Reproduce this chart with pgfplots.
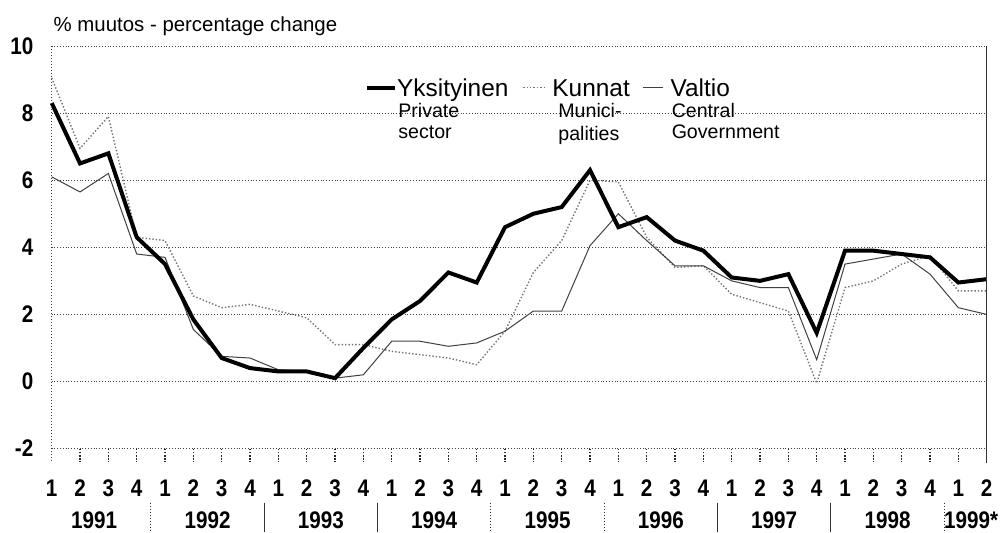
\documentclass[border=0pt]{standalone}
\usepackage{fontspec}
\setmainfont{Liberation Sans}
\newfontfamily\numfont{Liberation Sans}[FakeStretch=0.86]
\usepackage{pgfplots}
\usepackage{pgfplotstable}
\pgfplotsset{compat=1.18}
\pgfplotstableread{
q pri kun val
0 8.30 9.05 6.10
1 6.50 6.95 5.65
2 6.80 7.90 6.20
3 4.30 4.30 3.80
4 3.50 4.20 3.70
5 1.85 2.55 1.55
6 0.70 2.20 0.75
7 0.40 2.30 0.70
8 0.30 2.10 0.35
9 0.30 1.90 0.30
10 0.10 1.10 0.10
11 1.00 1.10 0.20
12 1.85 0.90 1.20
13 2.40 0.80 1.20
14 3.25 0.70 1.05
15 2.95 0.50 1.15
16 4.60 1.50 1.50
17 5.00 3.25 2.10
18 5.20 4.20 2.10
19 6.30 6.00 4.05
20 4.60 5.95 5.00
21 4.90 4.30 4.20
22 4.20 3.40 3.45
23 3.90 3.45 3.45
24 3.10 2.60 3.00
25 3.00 2.35 2.80
26 3.20 2.10 2.80
27 1.45 -0.05 0.65
28 3.90 2.80 3.50
29 3.90 3.00 3.65
30 3.80 3.50 3.80
31 3.70 3.75 3.20
32 2.95 2.70 2.20
33 3.05 2.70 2.00
}\data
\newcommand\numlab{\numfont\bfseries\fontsize{12}{14}\selectfont}
\newcommand\sublab{\fontsize{9.8}{11}\selectfont}
\newcommand\mainlab{\fontsize{12.2}{14}\selectfont}
\begin{document}
\begin{tikzpicture}
\begin{axis}[
  scale only axis, width=467.5pt, height=201.3pt,
  xmin=0, xmax=33, ymin=-2, ymax=10,
  axis line style={draw=none},
  clip=false,
  ytick={-2,0,2,4,6,8,10},
  yticklabels={-2,0,2,4,6,8,10},
  ymajorgrids,
  grid style={densely dotted, black!75, line width=0.5pt},
  y tick style={draw=none},
  major tick length=0pt,
  yticklabel style={font=\numlab, anchor=east, inner sep=0pt, xshift=-9pt},
  xtick=\empty,
]
\addplot[densely dotted, black!55, line width=0.7pt] table[x=q, y=kun] {\data};
\addplot[black!75, line width=0.5pt] table[x=q, y=val] {\data};
\addplot[black, line width=2pt, line join=miter] table[x=q, y=pri] {\data};
% borders
\draw[densely dotted, black!75, line width=0.5pt] (axis cs:0,10) -- ([yshift=-6.5pt]axis cs:0,-2);
\draw[black!80, line width=0.5pt] (axis cs:33,10) -- ([yshift=-7pt]axis cs:33,-2);
% ticks and quarter labels
\pgfplotsinvokeforeach{1,...,32}{
  \draw[black!85, line width=0.6pt, dash pattern=on 0.8pt off 0.8pt] (axis cs:#1,-2) -- ([yshift=-6.5pt]axis cs:#1,-2);
}
\pgfplotsinvokeforeach{0,...,33}{
  \node[anchor=base, inner sep=0pt, font=\numlab, yshift=-24pt] at (axis cs:#1,-2) {\pgfmathparse{int(mod(#1,4)+1)}\pgfmathresult};
}
% year labels
\node[anchor=base, inner sep=0pt, font=\numlab, yshift=-39.9pt] at (axis cs:1.5,-2) {1991};
\node[anchor=base, inner sep=0pt, font=\numlab, yshift=-39.9pt] at (axis cs:5.5,-2) {1992};
\node[anchor=base, inner sep=0pt, font=\numlab, yshift=-39.9pt] at (axis cs:9.5,-2) {1993};
\node[anchor=base, inner sep=0pt, font=\numlab, yshift=-39.9pt] at (axis cs:13.5,-2) {1994};
\node[anchor=base, inner sep=0pt, font=\numlab, yshift=-39.9pt] at (axis cs:17.5,-2) {1995};
\node[anchor=base, inner sep=0pt, font=\numlab, yshift=-39.9pt] at (axis cs:21.5,-2) {1996};
\node[anchor=base, inner sep=0pt, font=\numlab, yshift=-39.9pt] at (axis cs:25.5,-2) {1997};
\node[anchor=base, inner sep=0pt, font=\numlab, yshift=-39.9pt] at (axis cs:29.5,-2) {1998};
\node[anchor=base, inner sep=0pt, font=\numlab, yshift=-39.9pt] at (axis cs:32.45,-2) {1999*};
% year separators
\draw[densely dotted, black!80, line width=0.5pt] ([yshift=-27pt]axis cs:3.5,-2) -- ([yshift=-41.7pt]axis cs:3.5,-2);
\draw[black!80, line width=0.5pt] ([yshift=-27pt]axis cs:7.5,-2) -- ([yshift=-41.7pt]axis cs:7.5,-2);
\draw[black!80, line width=0.5pt] ([yshift=-27pt]axis cs:11.5,-2) -- ([yshift=-41.7pt]axis cs:11.5,-2);
\draw[densely dotted, black!80, line width=0.5pt] ([yshift=-27pt]axis cs:15.5,-2) -- ([yshift=-41.7pt]axis cs:15.5,-2);
\draw[densely dotted, black!80, line width=0.5pt] ([yshift=-27pt]axis cs:19.5,-2) -- ([yshift=-41.7pt]axis cs:19.5,-2);
\draw[black!80, line width=0.5pt] ([yshift=-27pt]axis cs:23.5,-2) -- ([yshift=-41.7pt]axis cs:23.5,-2);
\draw[black!80, line width=0.5pt] ([yshift=-27pt]axis cs:27.5,-2) -- ([yshift=-41.7pt]axis cs:27.5,-2);
\draw[densely dotted, black!80, line width=0.5pt] ([yshift=-27pt]axis cs:31.5,-2) -- ([yshift=-41.7pt]axis cs:31.5,-2);
% title
\node[anchor=base west, inner sep=0pt, font=\fontsize{10.2}{12}\selectfont, yshift=7.5pt, xshift=0.8pt] at (axis cs:0,10) {\% muutos - percentage change};
% legend
\draw[black, line width=2pt] (axis cs:11.12,8.76) -- (axis cs:12.12,8.76);
\node[anchor=base west, inner sep=0pt, font=\mainlab] at (axis cs:12.18,8.5) {Yksityinen};
\node[anchor=base west, inner sep=0pt, font=\sublab] at (axis cs:12.22,7.86) {Private};
\node[anchor=base west, inner sep=0pt, font=\sublab] at (axis cs:12.22,7.24) {sector};
\draw[densely dotted, black!55, line width=0.7pt] (axis cs:16.64,8.76) -- (axis cs:17.48,8.76);
\node[anchor=base west, inner sep=0pt, font=\mainlab] at (axis cs:17.66,8.5) {Kunnat};
\node[anchor=base west, inner sep=0pt, font=\sublab] at (axis cs:17.87,7.86) {Munici-};
\node[anchor=base west, inner sep=0pt, font=\sublab] at (axis cs:17.87,7.18) {palities};
\draw[black!75, line width=0.5pt] (axis cs:20.87,8.76) -- (axis cs:21.58,8.76);
\node[anchor=base west, inner sep=0pt, font=\mainlab] at (axis cs:21.83,8.5) {Valtio};
\node[anchor=base west, inner sep=0pt, font=\sublab] at (axis cs:21.87,7.86) {Central};
\node[anchor=base west, inner sep=0pt, font=\sublab] at (axis cs:21.87,7.24) {Government};
\end{axis}
\pgfresetboundingbox
\path (current axis.south west) ++(-25.85pt,-41.7pt) rectangle ++(503.5pt,266pt);
\end{tikzpicture}
\end{document}
